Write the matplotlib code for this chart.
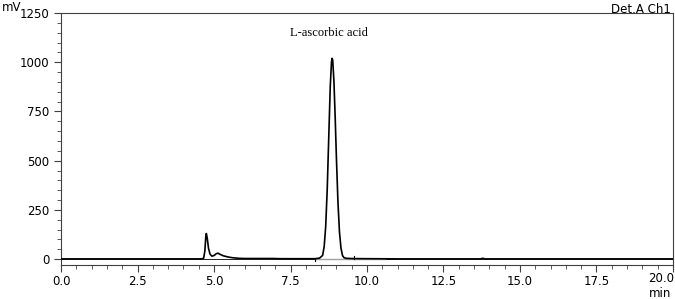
import numpy as np
import matplotlib
matplotlib.use('Agg')
import matplotlib.pyplot as plt
import matplotlib.transforms as mtransforms
from matplotlib.ticker import MultipleLocator, FuncFormatter

# chromatogram trace (min, mV)
t = [0.00, 1.00, 2.00, 3.00, 4.00, 4.50, 4.60, 4.66, 4.70, 4.73, 4.75, 4.78,
     4.82, 4.87, 4.93, 5.00, 5.08, 5.13, 5.20, 5.30, 5.45, 5.60, 5.80, 6.00,
     6.90, 7.20, 8.00, 8.30, 8.45, 8.55, 8.60, 8.65, 8.70, 8.75, 8.80, 8.84,
     8.86, 8.88, 8.92, 8.96, 9.00, 9.05, 9.10, 9.15, 9.20, 9.25, 9.32, 9.45,
     9.58, 10.00, 10.60, 11.00, 12.00, 13.00, 13.70, 13.78, 13.86, 14.00,
     15.00, 16.00, 17.00, 18.00, 19.00, 20.00]
mv = [1.0, 1.0, 1.0, 1.0, 1.0, 1.0, 1.5, 4, 40, 110, 130, 105,
      55, 25, 15, 18, 28, 30, 24, 17, 11, 7, 4, 3,
      3, 2, 2, 2, 5, 19, 63, 165, 354, 619, 880, 1003,
      1020, 1010, 900, 721, 516, 292, 138, 55, 18, 7, 4, 3,
      2.5, 2, 1.5, 1.0, 1.0, 1.0, 1.0, 4, 1.0, 1.0,
      1.0, 1.0, 1.0, 1.0, 1.0, 1.0]

# integration baselines and start/end marks
base_t = [[8.30, 9.58], [9.58, 10.60]]
base_mv = [[0.0, 0.0], [0.0, 0.0]]
mark_t = [8.30, 9.58]
mark_dir = [-1, 1]

peak_name = 'L-ascorbic acid'
peak_label_pos = (8.76, 1148)
x_max = 20.0

fig = plt.figure(figsize=(6.75, 2.99), dpi=100)
ax = fig.add_axes([0.0904, 0.1137, 0.9066, 0.8428])

for bt, bm in zip(base_t, base_mv):
    ax.plot(bt, bm, color='#a0a0a0', lw=1.0, zorder=1)
for mt, d in zip(mark_t, mark_dir):
    ax.plot([mt, mt], [2, 2 + d * 12], color='black', lw=0.8, zorder=2)
ax.plot(t, mv, color='black', lw=1.2, zorder=3)

ax.set_xlim(0, x_max)
ax.set_ylim(-30, 1250)
ax.xaxis.set_major_locator(MultipleLocator(2.5))
ax.xaxis.set_minor_locator(MultipleLocator(0.5))
ax.yaxis.set_major_locator(MultipleLocator(250))
ax.yaxis.set_minor_locator(MultipleLocator(50))
# last x label is drawn separately, right-aligned inside the figure
ax.xaxis.set_major_formatter(FuncFormatter(lambda v, p: '' if v >= x_max - 1e-6 else '%.1f' % v))
ax.tick_params(which='major', length=5, width=0.8, labelsize=8.5, color='#404040')
ax.tick_params(which='minor', length=3, width=0.6, color='#404040')
ax.tick_params(axis='x', pad=2)
for s in ax.spines.values():
    s.set_linewidth(0.8)
    s.set_color('#404040')

ax.axhline(0, color='black', lw=0.6, zorder=0)

trans = mtransforms.offset_copy(ax.get_xaxis_transform(), fig=fig, x=1, y=-7, units='dots')
ax.text(x_max, 0, '%.1f' % x_max, transform=trans, ha='right', va='top', fontsize=8.5)

ax.text(peak_label_pos[0], peak_label_pos[1], peak_name, ha='center', va='center',
        fontsize=9, family='Liberation Serif')
fig.text(0.003, 0.975, 'mV', ha='left', va='center', fontsize=8.5)
fig.text(0.995, 0.02, 'min', ha='right', va='center', fontsize=8.5)
fig.text(0.994, 0.967, 'Det.A Ch1', ha='right', va='center', fontsize=8.5)

fig.savefig('out.png', dpi=100)
